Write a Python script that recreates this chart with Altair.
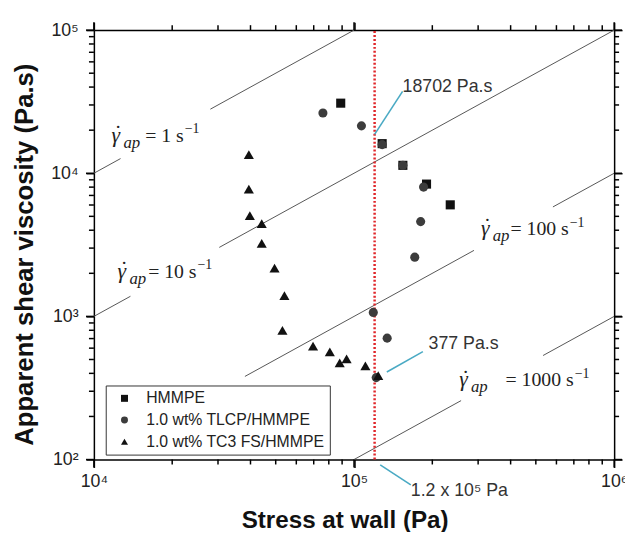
import altair as alt
import pandas as pd

# ---------------- data ----------------
series_names = ["HMMPE", "1.0 wt% TLCP/HMMPE", "1.0 wt% TC3 FS/HMMPE"]
series_sizes = [85, 85, 105]

hmmpe_stress = [88900, 128300, 154100, 190000, 234400]
hmmpe_visc = [30880, 16100, 11360, 8400, 6016]

tlcp_stress = [75940, 106800, 128300, 154100, 185100, 180400, 171200, 118600, 134100, 121700]
tlcp_visc = [26350, 21430, 15850, 11360, 8006, 4594, 2593, 1066, 705, 373.5]

tc3_stress = [39420, 39420, 39770, 44180, 44180, 49490, 54010, 53070,
              69580, 80730, 88100, 93650, 110600, 123900]
tc3_visc = [13520, 7757, 5050, 4449, 3238, 2177, 1396, 800,
            621, 565, 474, 505, 452, 386]

# constant shear-rate guide lines (viscosity = stress / rate), broken for labels
seg_rate = [1, 1, 10, 10, 100, 100, 1000, 1000]
seg_start = [1e4, 28040, 1e4, 30340, 38070, 581700, 1e5, 533100]
seg_end = [12660, 1e5, 13820, 1e6, 289200, 1e6, 258000, 1e6]

rate_rest_text = ["= 1 s", "= 10 s", "= 100 s", "= 1000 s"]
rate_gamma_x = [11700, 12330, 307400, 253600]
rate_sup_x = [22340, 25030, 674900, 705000]
rate_label_y = [16620, 1858, 3678, 323.8]

crit_stress = 1.2e5
x_domain = [1e4, 1e6]
y_domain = [1e2, 1e5]

callout_x0 = [120000, 133700, 126100]
callout_y0 = [18702, 409, 91.9]
callout_x1 = [153700, 184000, 165300]
callout_y1 = [37360, 567, 66.5]
callout_text = ["18702 Pa.s", "377 Pa.s", "1.2 x 10\u2075 Pa"]
callout_text_x = [153700, 193400, 165300]
callout_text_y = [39810, 641, 60.2]

x_decades = [10000, 100000, 1000000]
y_decades = [100, 1000, 10000, 100000]
x_minor = [k * 10 ** d for d in (4, 5) for k in range(2, 10)]
y_minor = [k * 10 ** d for d in (2, 3, 4) for k in range(2, 10)]
sup = {2: "\u00b2", 3: "\u00b3", 4: "\u2074", 5: "\u2075", 6: "\u2076"}

W, H = 527, 435
MAJOR, MINOR = 8, 5

# ---------------- tables ----------------
pts = pd.DataFrame({
    "stress": hmmpe_stress + tlcp_stress + tc3_stress,
    "visc": hmmpe_visc + tlcp_visc + tc3_visc,
    "series": [series_names[0]] * len(hmmpe_stress)
    + [series_names[1]] * len(tlcp_stress)
    + [series_names[2]] * len(tc3_stress),
    "sz": [series_sizes[0]] * len(hmmpe_stress)
    + [series_sizes[1]] * len(tlcp_stress)
    + [series_sizes[2]] * len(tc3_stress),
})
segs = pd.DataFrame({"rate": seg_rate, "s0": seg_start, "s1": seg_end})
segs["v0"] = segs["s0"] / segs["rate"]
segs["v1"] = segs["s1"] / segs["rate"]
rlab = pd.DataFrame({"gx": rate_gamma_x, "sx": rate_sup_x, "y": rate_label_y, "t": rate_rest_text})
call = pd.DataFrame({"x0": callout_x0, "y0": callout_y0, "x1": callout_x1, "y1": callout_y1,
                     "t": callout_text, "tx": callout_text_x, "ty": callout_text_y})
crit = pd.DataFrame({"stress": [crit_stress], "lo": [y_domain[0]], "hi": [y_domain[1]]})

xs = alt.Scale(type="log", domain=x_domain, nice=False)
ys = alt.Scale(type="log", domain=y_domain, nice=False)

SANS = "Liberation Sans"
SERIF = "Liberation Serif"


def label_expr(decades):
    parts = [f"datum.value == {d} ? '10{sup[len(str(d)) - 1]}'" for d in decades]
    return " : ".join(parts) + " : ''"


common = dict(grid=False, ticks=True, domain=True, domainColor="black", domainWidth=1.5,
              tickColor="#000000", tickWidth=1.5, tickOpacity=1,
              labelOverlap=False, labelFlush=False)

x_axis_bottom = alt.Axis(orient="bottom", values=x_decades, tickSize=MAJOR,
                         labelExpr=label_expr(x_decades), labelFont=SANS, labelFontSize=18,
                         labelColor="#222", labelPadding=5,
                         title="Stress at wall (Pa)", titleFont=SANS, titleFontSize=24.5,
                         titleFontWeight="bold", titleColor="#111", titleX=254, titleY=69,
                         titleBaseline="alphabetic", titleAlign="center", **common)
y_axis_left = alt.Axis(orient="left", values=y_decades, tickSize=MAJOR,
                       labelExpr=label_expr(y_decades), labelFont=SANS, labelFontSize=18,
                       labelColor="#222", labelPadding=8,
                       title="Apparent shear viscosity (Pa.s)", titleFont=SANS, titleFontSize=26,
                       titleFontWeight="bold", titleColor="#111", titleX=-70, titleY=227,
                       titleBaseline="middle", titleAlign="center", titleAngle=270, **common)
x_axis_top = alt.Axis(orient="top", values=x_decades, tickSize=MAJOR, labels=False,
                      title="", **common)
y_axis_right = alt.Axis(orient="right", values=y_decades, tickSize=MAJOR, labels=False,
                        title="", **common)

# explicit tick marks on all four sides (positions along the axes from the scales)
xt_major = pd.DataFrame({"v": x_decades})
xt_minor = pd.DataFrame({"v": x_minor})
yt_major = pd.DataFrame({"v": y_decades})
yt_minor = pd.DataFrame({"v": y_minor})


def xticks(df, centre, length):
    return alt.Chart(df).mark_tick(color="black", thickness=1.5, size=length,
                                   orient="vertical", opacity=1).encode(
        x=alt.X("v:Q", scale=xs, axis=None), y=alt.value(centre))


def yticks(df, centre, length):
    return alt.Chart(df).mark_tick(color="black", thickness=1.5, size=length,
                                   orient="horizontal", opacity=1).encode(
        y=alt.Y("v:Q", scale=ys, axis=None), x=alt.value(centre))


tick_layers = [
    xticks(xt_major, H + MAJOR / 2, MAJOR), xticks(xt_minor, H + MINOR / 2, MINOR),
    xticks(xt_major, -MAJOR / 2, MAJOR), xticks(xt_minor, -MINOR / 2, MINOR),
    yticks(yt_major, -MAJOR / 2, MAJOR), yticks(yt_minor, -MINOR / 2, MINOR),
    yticks(yt_major, W + MAJOR / 2, MAJOR), yticks(yt_minor, W + MINOR / 2, MINOR),
]

rate_lines = alt.Chart(segs).mark_rule(color="#555", strokeWidth=1).encode(
    x=alt.X("s0:Q", scale=xs, axis=None), x2="s1:Q",
    y=alt.Y("v0:Q", scale=ys, axis=None), y2="v1:Q")

txt = dict(font=SERIF, align="left", baseline="alphabetic", color="#222")
gamma = alt.Chart(rlab).mark_text(text="\u03b3", fontStyle="italic", fontSize=22, **txt).encode(
    x=alt.X("gx:Q", scale=xs, axis=None), y=alt.Y("y:Q", scale=ys, axis=None))
gdot = alt.Chart(rlab).mark_text(text="\u02d9", fontSize=22, dx=3, dy=-2, **txt).encode(
    x=alt.X("gx:Q", scale=xs, axis=None), y=alt.Y("y:Q", scale=ys, axis=None))
gsub = alt.Chart(rlab).mark_text(text="ap", fontStyle="italic", fontSize=17, dx=12, dy=6,
                                 **txt).encode(
    x=alt.X("gx:Q", scale=xs, axis=None), y=alt.Y("y:Q", scale=ys, axis=None))
grest = alt.Chart(rlab).mark_text(font=SERIF, fontSize=20, align="right", baseline="alphabetic",
                                  color="#222", dx=-1).encode(
    x=alt.X("sx:Q", scale=xs, axis=None), y=alt.Y("y:Q", scale=ys, axis=None), text="t:N")
gsup = alt.Chart(rlab).mark_text(text="\u22121", fontSize=14, dy=-9, **txt).encode(
    x=alt.X("sx:Q", scale=xs, axis=None), y=alt.Y("y:Q", scale=ys, axis=None))

red = alt.Chart(crit).mark_rule(color="#e0262a", strokeWidth=2.5, strokeDash=[2, 2]).encode(
    x=alt.X("stress:Q", scale=xs, axis=x_axis_top),
    y=alt.Y("lo:Q", scale=ys, axis=y_axis_right), y2="hi:Q")

teal = alt.Chart(call).mark_rule(color="#4aaac4", strokeWidth=1.6).encode(
    x=alt.X("x0:Q", scale=xs, axis=None), x2="x1:Q",
    y=alt.Y("y0:Q", scale=ys, axis=None), y2="y1:Q")
ctext = alt.Chart(call).mark_text(font=SANS, fontSize=18, align="left", baseline="middle",
                                  color="#333").encode(
    x=alt.X("tx:Q", scale=xs, axis=None), y=alt.Y("ty:Q", scale=ys, axis=None), text="t:N")

points = alt.Chart(pts).mark_point(filled=True, opacity=1, strokeWidth=0).encode(
    x=alt.X("stress:Q", scale=xs, axis=x_axis_bottom),
    y=alt.Y("visc:Q", scale=ys, axis=y_axis_left),
    shape=alt.Shape("series:N", scale=alt.Scale(domain=series_names,
                                                range=["square", "circle", "triangle-up"]),
                    legend=alt.Legend(title=None, orient="none", legendX=12, legendY=360,
                                      strokeColor="#333", fillColor="white", padding=5,
                                      labelFont=SANS, labelFontSize=16, labelColor="#222",
                                      labelLimit=400, symbolSize=50, rowPadding=6,
                                      symbolOffset=6, labelOffset=14, symbolStrokeWidth=0)),
    color=alt.Color("series:N", scale=alt.Scale(domain=series_names,
                                                range=["#111111", "#3c3c3c", "#111111"])),
    size=alt.Size("sz:Q", scale=None),
)

chart = alt.layer(rate_lines, red, teal, ctext, gamma, gdot, gsub, grest, gsup,
                  *tick_layers, points).resolve_axis(
    x="independent", y="independent"
).properties(
    width=W, height=H,
    padding={"left": 87, "top": 19, "right": 11, "bottom": 70},
    autosize="none",
).configure_view(strokeWidth=0)

chart.save("out.html", embed_options={"renderer": "svg", "actions": False})
